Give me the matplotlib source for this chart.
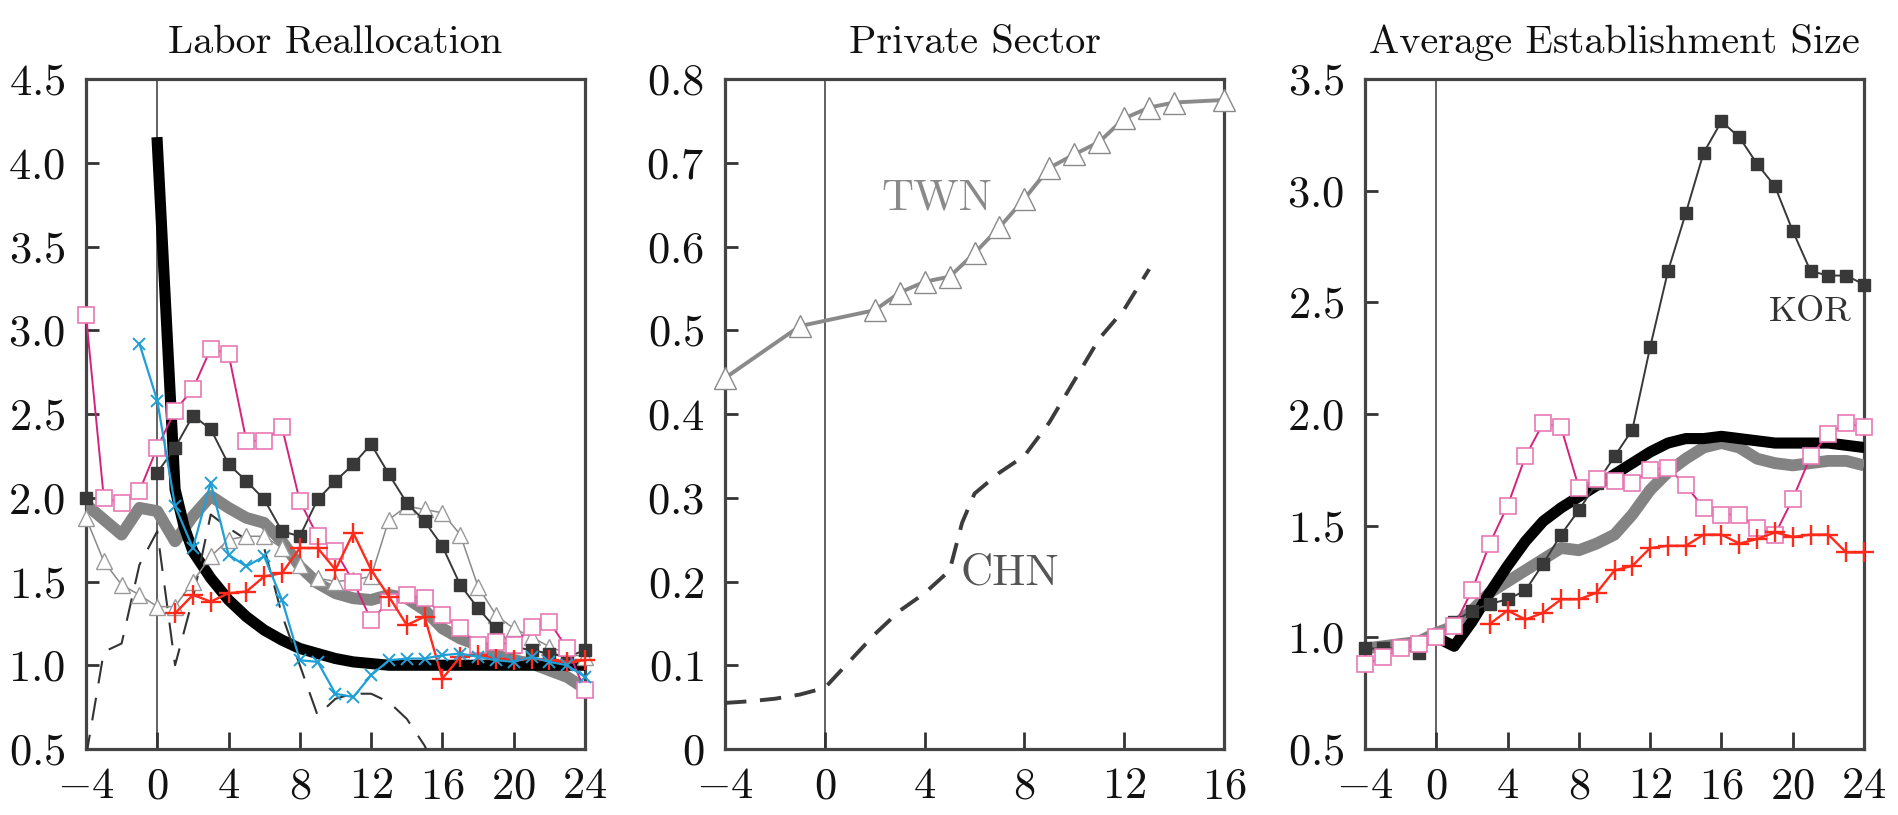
import numpy as np
import matplotlib
matplotlib.use('Agg')
from matplotlib import pyplot as plt

plt.rcParams['font.family'] = 'cmr10'
plt.rcParams['mathtext.fontset'] = 'cm'
plt.rcParams['axes.unicode_minus'] = False

# ---- data ----
years = list(range(-4, 25))

# Labor Reallocation
lr_avg = [1.96, 1.87, 1.78, 1.94, 1.92, 1.74, 1.89, 2.01, 1.94, 1.88, 1.85, 1.74, 1.59, 1.49,
          1.43, 1.40, 1.39, 1.42, 1.40, 1.33, 1.22, 1.16, 1.12, 1.06, 1.03, 1.01, 0.97, 0.93, 0.86]
lr_model_x = [0, 1, 1.5, 2, 3, 4, 5, 6, 7, 8, 9, 10, 11, 12, 13, 14, 15, 16, 17, 18, 19, 20, 21, 22, 23, 24]
lr_model = [4.12, 2.05, 1.83, 1.68, 1.52, 1.39, 1.29, 1.21, 1.15, 1.10, 1.07, 1.04, 1.02, 1.01,
            1.0, 1.0, 1.0, 1.0, 1.0, 1.0, 1.0, 1.0, 1.0, 1.0, 1.0, 1.0]
lr_pink = [3.09, 2.0, 1.97, 2.04, 2.30, 2.52, 2.65, 2.89, 2.86, 2.34, 2.34, 2.42, 1.98, 1.77,
           1.68, 1.5, 1.27, 1.38, 1.42, 1.40, 1.3, 1.22, 1.12, 1.14, 1.12, 1.23, 1.26, 1.10, 0.85]
lr_kor = [2.0, np.nan, np.nan, np.nan, 2.15, 2.3, 2.49, 2.41, 2.2, 2.1, 1.99, 1.8, 1.77, 1.99,
          2.1, 2.2, 2.32, 2.14, 1.97, 1.86, 1.71, 1.48, 1.34, 1.22, 1.11, 1.09, 1.07, 1.05, 1.09]
lr_twn = [1.88, 1.62, 1.48, 1.42, 1.35, 1.35, 1.5, 1.65, 1.75, 1.77, 1.77, 1.7, 1.6, 1.52,
          1.5, 1.51, 1.53, 1.87, 1.95, 1.93, 1.91, 1.78, 1.47, 1.3, 1.22, 1.17, 1.11, 1.07, 1.05]
lr_red_x = list(range(1, 25))
lr_red = [1.31, 1.42, 1.38, 1.43, 1.44, 1.53, 1.55, 1.7, 1.7, 1.57, 1.79, 1.57, 1.41, 1.24,
          1.29, 0.92, 1.05, 1.06, 1.04, 1.03, 1.04, 1.03, 1.02, 1.03]
lr_cyan_x = list(range(-1, 25))
lr_cyan = [2.92, 2.58, 1.95, 1.7, 2.09, 1.66, 1.59, 1.65, 1.39, 1.03, 1.02, 0.83, 0.81, 0.94,
           1.03, 1.04, 1.04, 1.06, 1.07, 1.05, 1.03, 1.02, 1.05, 1.02, 1.0, 0.93]
lr_chn_x = list(range(-4, 17))
lr_chn = [0.45, 1.08, 1.13, 1.6, 1.8, 1.0, 1.4, 1.9, 1.82, 1.75, 1.7, 1.3, 1.0, 0.7,
          0.8, 0.83, 0.83, 0.78, 0.68, 0.52, 0.3]

# Private Sector
ps_twn_x = [-4, -1, 2, 3, 4, 5, 6, 7, 8, 9, 10, 11, 12, 13, 14, 16]
ps_twn = [0.443, 0.505, 0.524, 0.545, 0.558, 0.564, 0.592, 0.623, 0.657, 0.694, 0.71,
          0.725, 0.753, 0.766, 0.772, 0.775]
ps_chn_x = [-4, -3, -2, -1, 0, 1, 2, 3, 4, 5, 5.5, 6, 7, 8, 9, 10, 11, 12, 13]
ps_chn = [0.055, 0.057, 0.060, 0.065, 0.073, 0.105, 0.137, 0.165, 0.186, 0.213, 0.27, 0.305,
          0.33, 0.35, 0.39, 0.44, 0.49, 0.525, 0.573]

# Average Establishment Size
es_avg = [0.95, 0.96, 0.97, 0.98, 1.02, 1.05, 1.12, 1.2, 1.25, 1.3, 1.35, 1.4, 1.39, 1.42,
          1.46, 1.55, 1.66, 1.74, 1.8, 1.85, 1.87, 1.85, 1.8, 1.78, 1.77, 1.78, 1.79, 1.79, 1.77]
es_model_x = list(range(0, 25))
es_model = [1.0, 0.96, 1.07, 1.2, 1.32, 1.43, 1.52, 1.58, 1.63, 1.68, 1.73, 1.78, 1.83, 1.87,
            1.89, 1.89, 1.90, 1.89, 1.88, 1.87, 1.87, 1.87, 1.87, 1.86, 1.85]
es_kor = [0.95, 0.95, 0.95, 0.93, 1.0, 1.07, 1.12, 1.15, 1.17, 1.21, 1.33, 1.46, 1.57, 1.69,
          1.81, 1.93, 2.30, 2.64, 2.90, 3.17, 3.31, 3.24, 3.12, 3.02, 2.82, 2.64, 2.62, 2.62, 2.58]
es_pink = [0.88, 0.91, 0.95, 0.97, 1.0, 1.05, 1.21, 1.42, 1.59, 1.81, 1.96, 1.94, 1.67, 1.71,
           1.70, 1.69, 1.75, 1.76, 1.68, 1.58, 1.55, 1.55, 1.49, 1.46, 1.62, 1.81, 1.91, 1.96, 1.94]
es_red_x = list(range(3, 25))
es_red = [1.06, 1.12, 1.08, 1.11, 1.17, 1.17, 1.2, 1.30, 1.32, 1.40, 1.41, 1.41, 1.46, 1.46,
          1.42, 1.44, 1.47, 1.45, 1.46, 1.46, 1.38, 1.38]

titles = ['Labor Reallocation', 'Private Sector', 'Average Establishment Size']
xticks_long = [-4, 0, 4, 8, 12, 16, 20, 24]
xticks_short = [-4, 0, 4, 8, 12, 16]
lr_yticks = [0.5, 1.0, 1.5, 2.0, 2.5, 3.0, 3.5, 4.0, 4.5]
ps_yticks = [0, 0.1, 0.2, 0.3, 0.4, 0.5, 0.6, 0.7, 0.8]
ps_yticklabels = ['0', '0.1', '0.2', '0.3', '0.4', '0.5', '0.6', '0.7', '0.8']
es_yticks = [0.5, 1.0, 1.5, 2.0, 2.5, 3.0, 3.5]

PINK = '#d4237e'
PINK_M = '#e878b4'
DARK = '#383838'
RED = '#ff2a1a'
CYAN = '#1f9fd6'
GRAY = '#838383'
FS = 32
TFS = 29

fig = plt.figure(figsize=(18.98, 8.15), dpi=100)
ax1 = fig.add_axes([0.0453, 0.081, 0.2629, 0.822])
ax2 = fig.add_axes([0.382, 0.081, 0.2629, 0.822])
ax3 = fig.add_axes([0.7192, 0.081, 0.2629, 0.822])


def style(ax, title, xt, yt, ytl):
    ax.axvline(0, color='#555555', lw=1.3, zorder=1)
    ax.set_xticks(xt)
    ax.set_xticklabels(['$%d$' % v for v in xt])
    ax.set_yticks(yt)
    ax.set_yticklabels(['$%s$' % s for s in ytl])
    ax.tick_params(axis='both', direction='in', colors='#333333', width=2,
                   labelsize=FS, labelcolor='#111111')
    ax.tick_params(axis='x', length=12, pad=13)
    ax.tick_params(axis='y', length=9, pad=15)
    for s in ax.spines.values():
        s.set_color('#444444')
        s.set_linewidth(2.3)
    ax.set_title(title, fontsize=TFS, pad=19, color='#111111')


# Labor Reallocation
ax = ax1
ax.plot(years, lr_avg, color=GRAY, lw=8.5, solid_capstyle='butt', zorder=3)
ax.plot(lr_model_x, lr_model, color='black', lw=8, zorder=4)
ax.plot(lr_chn_x, lr_chn, color='#333333', lw=1.5, dashes=(11, 7), zorder=5)
ax.plot(years, lr_twn, color='#8a8a8a', lw=1.1, marker='^', ms=11, mfc='white',
        mec='#9a9a9a', mew=1.0, zorder=5, clip_on=False)
ax.plot(years, lr_kor, color=DARK, lw=1.4, marker='s', ms=8.5, mfc=DARK, mec=DARK,
        zorder=6, clip_on=False)
ax.plot(years, lr_pink, color=PINK, lw=1.4, marker='s', ms=11, mfc='white', mec=PINK_M,
        mew=1.2, zorder=6, clip_on=False)
ax.plot(lr_red_x, lr_red, color=RED, lw=1.7, marker='+', ms=14, mew=1.7, zorder=7, clip_on=False)
ax.plot(lr_cyan_x, lr_cyan, color=CYAN, lw=1.6, marker='x', ms=8.5, mew=1.4, zorder=7, clip_on=False)
ax.set_xlim(-4, 24)
ax.set_ylim(0.5, 4.5)
style(ax, titles[0], xticks_long, lr_yticks, ['%.1f' % v for v in lr_yticks])

# Private Sector
ax = ax2
ax.plot(ps_chn_x, ps_chn, color='#3c3c3c', lw=2.8, dashes=(5.5, 3.5), zorder=3)
ax.plot(ps_twn_x, ps_twn, color='#8a8a8a', lw=2.8, marker='^', ms=16, mfc='white',
        mec='#8a8a8a', mew=1.0, zorder=4, clip_on=False)
ax.text(4.47, 0.657, 'TWN', color='#8a8a8a', fontsize=FS, ha='center', va='center')
ax.text(7.42, 0.21, 'CHN', color='#555555', fontsize=FS, ha='center', va='center')
ax.set_xlim(-4, 16)
ax.set_ylim(0, 0.8)
style(ax, titles[1], xticks_short, ps_yticks, ps_yticklabels)

# Average Establishment Size
ax = ax3
ax.plot(years, es_avg, color=GRAY, lw=8.5, solid_capstyle='butt', zorder=3)
ax.plot(es_model_x, es_model, color='black', lw=8, zorder=4)
ax.plot(years, es_kor, color=DARK, lw=1.4, marker='s', ms=8.5, mfc=DARK, mec=DARK,
        zorder=6, clip_on=False)
ax.plot(years, es_pink, color=PINK, lw=1.4, marker='s', ms=11, mfc='white', mec=PINK_M,
        mew=1.2, zorder=6, clip_on=False)
ax.plot(es_red_x, es_red, color=RED, lw=1.7, marker='+', ms=14, mew=1.7, zorder=7, clip_on=False)
ax.text(20.98, 2.455, 'KOR', color='#333333', fontsize=26, ha='center', va='center')
ax.set_xlim(-4, 24)
ax.set_ylim(0.5, 3.5)
style(ax, titles[2], xticks_long, es_yticks, ['%.1f' % v for v in es_yticks])

fig.savefig('out.png', dpi=100)
